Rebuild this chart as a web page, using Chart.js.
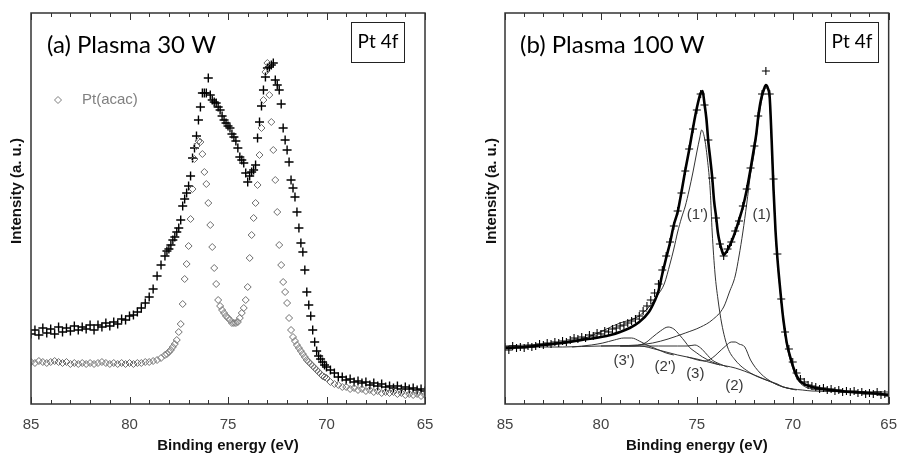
<!DOCTYPE html>
<html>
<head>
<meta charset="utf-8">
<script src="https://cdn.jsdelivr.net/npm/chart.js@4.4.0/dist/chart.umd.min.js"></script>
<style>
  html, body { margin: 0; padding: 0; background: #fff; }
  #wrap { position: relative; width: 909px; height: 453px; }
  canvas { position: absolute; top: 0; }
  #left { left: 0; }
  #right { left: 455px; }
</style>
</head>
<body>
<div id="wrap">
  <canvas id="left" width="455" height="453"></canvas>
  <canvas id="right" width="454" height="453"></canvas>
</div>
<script>
// ---- panel (a): Plasma 30 W ----
const energy30 = [
  85.0, 84.8, 84.6, 84.4, 84.2, 84.0, 83.8, 83.6, 83.4, 83.2, 83.0, 82.8, 82.6, 82.4, 82.2, 82.0, 81.8, 81.6,
  81.4, 81.2, 81.0, 80.8, 80.6, 80.4, 80.2, 80.0, 79.8, 79.6, 79.4, 79.2, 79.0, 78.8, 78.6, 78.4, 78.2,
  78.1, 78.0, 77.9, 77.8, 77.7, 77.6, 77.5, 77.4, 77.3, 77.2, 77.1, 77.0, 76.9, 76.8, 76.7, 76.6, 76.5, 76.4,
  76.3, 76.2, 76.1, 76.0, 75.9, 75.8, 75.7, 75.6, 75.5, 75.4, 75.3, 75.2, 75.1, 75.0, 74.9, 74.8, 74.7, 74.6,
  74.5, 74.4, 74.3, 74.2, 74.1, 74.0, 73.9, 73.8, 73.7, 73.6, 73.5, 73.4, 73.3, 73.2, 73.1, 73.0, 72.9, 72.8,
  72.7, 72.6, 72.5, 72.4, 72.3, 72.2, 72.1, 72.0, 71.9, 71.8, 71.7, 71.6, 71.5, 71.4, 71.3, 71.2, 71.1, 71.0,
  70.9, 70.8, 70.7, 70.6, 70.5, 70.4, 70.3, 70.2, 70.1, 70.0,
  69.8, 69.6, 69.4, 69.2, 69.0, 68.8, 68.6, 68.4, 68.2, 68.0, 67.8, 67.6, 67.4, 67.2, 67.0, 66.8, 66.6, 66.4,
  66.2, 66.0, 65.8, 65.6, 65.4, 65.2, 65.0
];
const plasma30 = [
  70, 74, 69, 76, 71, 75, 70, 77, 72, 76, 73, 78, 74, 77, 75, 79, 74, 79,
  77, 81, 78, 82, 80, 85, 84, 88, 89, 92, 96, 101, 107, 115, 128, 139, 148,
  153, 155, 159, 164, 167, 172, 176, 184, 198, 205, 211, 218, 228, 246, 256, 268, 284, 297,
  311, 311, 311, 326, 309, 304, 302, 301, 297, 294, 288, 284, 281, 278, 276, 270, 267, 263,
  256, 247, 244, 241, 231, 222, 228, 232, 234, 239, 266, 282, 298, 314, 327, 336, 337, 339,
  341, 324, 319, 314, 300, 276, 264, 254, 242, 224, 216, 207, 192, 176, 161, 152, 134, 112,
  99, 88, 74, 62, 53, 48, 45, 42, 39, 37,
  34, 31, 27, 27, 24, 25, 22, 23, 21, 22, 19, 21, 18, 20, 17, 18, 16, 18,
  15, 17, 15, 16, 14, 15, 13
];
const ptAcac = [
  42, 41, 43, 42, 41, 42, 43, 42, 41, 42, 40, 41, 40, 41, 40, 41, 40, 41,
  42, 41, 40, 41, 40, 41, 40, 41, 40, 41, 41, 42, 42, 43, 44, 46, 49,
  50, 52, 54, 57, 60, 64, 72, 80, 100, 125, 140, 158, 185, 215, 245, 258, 263, 262,
  250, 232, 220, 201, 179, 157, 136, 120, 104, 98, 94, 91, 88, 86, 84, 81, 81, 81,
  82, 86, 91, 96, 104, 117, 146, 169, 186, 201, 219, 249, 276, 304, 332, 341, 309, 282,
  254, 224, 192, 159, 139, 122, 112, 101, 86, 74, 67, 63, 59, 56, 53, 50, 47, 44,
  42, 40, 38, 36, 34, 32, 30, 28, 27, 26,
  22, 20, 19, 17, 17, 15, 16, 14, 15, 13, 14, 12, 13, 11, 12, 11, 12, 10,
  11, 9, 10, 9, 10, 8, 9
];

// ---- panel (b): Plasma 100 W ----
const energy100 = [
  85.0, 84.8, 84.6, 84.4, 84.2, 84.0, 83.8, 83.6, 83.4, 83.2, 83.0, 82.8, 82.6, 82.4, 82.2, 82.0, 81.8,
  81.6, 81.4, 81.2, 81.0, 80.8, 80.6, 80.4, 80.2, 80.0, 79.8, 79.6, 79.4, 79.2, 79.0, 78.8, 78.6, 78.4,
  78.2, 78.0, 77.8, 77.6, 77.4, 77.2, 77.0, 76.8, 76.6, 76.4, 76.2, 76.0, 75.8, 75.6, 75.4, 75.2, 75.0,
  74.8, 74.6, 74.4, 74.2, 74.0, 73.8, 73.6, 73.4, 73.2, 73.0, 72.8, 72.6, 72.4, 72.2, 72.0, 71.8, 71.6,
  71.4, 71.2, 71.0, 70.8, 70.6, 70.4, 70.2, 70.0, 69.8, 69.6, 69.4, 69.2, 69.0, 68.8, 68.6, 68.4, 68.2,
  68.0, 67.8, 67.6, 67.4, 67.2, 67.0, 66.8, 66.6, 66.4, 66.2, 66.0, 65.8, 65.6, 65.4, 65.2, 65.0
];
const plasma100 = [
  57, 54, 58, 56, 57, 56, 58, 57, 58, 60, 59, 61, 60, 62, 61, 63, 62,
  64, 66, 65, 67, 66, 69, 68, 71, 70, 73, 72, 75, 76, 78, 79, 81, 83,
  85, 88, 93, 98, 104, 111, 120, 134, 148, 162, 178, 193, 211, 233, 255, 275, 294,
  310, 299, 264, 226, 186, 160, 148, 155, 162, 173, 183, 198, 215, 236, 258, 288, 310,
  333, 310, 225, 150, 105, 72, 55, 42, 31, 25, 22, 19, 18, 17, 15, 16, 14,
  15, 13, 14, 12, 13, 12, 13, 11, 12, 10, 11, 10, 12, 9, 10, 8
];
const fitEnergy = [
  85, 84, 83, 82, 81, 80, 79.5, 79, 78.5, 78, 77.5, 77.2, 77, 76.8, 76.6, 76.4, 76.2, 76,
  75.8, 75.6, 75.4, 75.2, 75, 74.8, 74.7, 74.6, 74.5, 74.4, 74.3, 74.2, 74.1, 74,
  73.9, 73.8, 73.7, 73.6, 73.5, 73.4, 73.2, 73, 72.8, 72.6, 72.4, 72.2, 72,
  71.9, 71.8, 71.7, 71.6, 71.5, 71.4, 71.3, 71.2, 71.1, 71, 70.9, 70.8, 70.7, 70.6, 70.5, 70.4, 70.3, 70.1,
  69.9, 69.7, 69.5, 69, 68, 67, 66, 65
];
const fitSum = [
  56, 57, 59, 61, 64, 67, 69, 72, 76, 82, 92, 103, 113, 130, 146, 161, 179, 192,
  212, 234, 254, 276, 296, 311, 313, 300, 285, 262, 245, 227, 203, 188,
  171, 161, 154, 149, 151, 154, 162, 172, 184, 197, 214, 235, 258,
  270, 287, 300, 309, 315, 319, 316, 306, 264, 214, 174, 146, 124, 104, 86, 72, 60, 45,
  33, 25, 21, 17, 14, 12, 11, 9
];
const bgEnergy = [85, 82, 80, 79, 78, 77, 76, 75, 74, 73, 72, 71, 70.5, 70, 69.5, 69, 65];
const bgLine = [57, 57, 58, 58, 58, 54, 49, 45, 40, 36, 29, 21, 17, 15, 14, 13, 12];

const p1Energy = [80, 78.1, 77.3, 76.5, 75.6, 74.8, 74.2, 73.6, 73.3, 73, 72.8, 72.6, 72.4, 72.2, 72,
  71.8, 71.6, 71.4, 71.3, 71.2, 71.1, 71, 70.9, 70.8, 70.6, 70.4, 70.2, 70, 69.8, 69.5, 69, 68.5];
const p1 = [58, 59, 61, 65, 71, 77, 84, 97, 112, 128, 148, 172, 200, 230, 252,
  282, 305, 316, 315, 303, 261, 211, 172, 144, 102, 69, 49, 36, 26, 19, 15, 14];
const p1pEnergy = [85, 83, 82, 81, 80.4, 79.6, 79, 78.1, 77.5, 77, 76.7, 76.4, 76.2, 76, 75.8, 75.6, 75.4,
  75.2, 75, 74.85, 74.75, 74.6, 74.45, 74.3, 74.2, 74.05, 73.9, 73.7, 73.4, 73, 72.2, 71.4, 70.8, 70.5, 70];
const p1p = [58, 60, 62, 65, 69, 76, 81, 87, 97, 110, 120, 140, 155, 172, 186, 198, 214,
  232, 252, 266, 274, 266, 245, 213, 172, 130, 105, 80, 57, 44, 31, 24, 20, 17, 15];
const p2Energy = [75.5, 74.6, 74.2, 73.9, 73.5, 73.2, 73.0, 72.8, 72.5, 72.2, 71.7, 71.0, 70.3, 69.8];
const p2 = [47, 43, 46, 51, 58, 62, 62, 60, 57, 44, 31, 21, 16, 14];
const p2pEnergy = [79, 78.4, 77.7, 77.3, 76.9, 76.5, 76.2, 75.9, 75.6, 75.4, 75, 74.7, 74.2, 73.8];
const p2p = [58, 58, 61, 67, 73, 77, 75, 69, 62, 57, 51, 47, 42, 39];
const p3Energy = [79, 78, 77, 76, 75.5, 75.1, 74.8, 74.5, 74.2, 73.8, 73.4];
const p3 = [58, 58, 58, 58, 58, 59, 56, 50, 44, 40, 37];
const p3pEnergy = [81.5, 80.5, 79.9, 79.3, 78.8, 78.4, 78, 77.6, 77.1, 76.6, 76.2];
const p3p = [57, 59, 61, 64, 66, 66, 63, 59, 55, 51, 49];

const peakLabels = ["(1')", '(1)', "(3')", "(2')", '(3)', '(2)'];
const peakLabelE = [74.97, 71.62, 78.79, 76.65, 75.08, 73.04];
const peakLabelI = [189, 189, 43, 37, 30, 18];

const axisTicks = [85, 84, 83, 82, 81, 80, 79, 78, 77, 76, 75, 74, 73, 72, 71, 70, 69, 68, 67, 66, 65];

Chart.defaults.font.family = '"Liberation Sans", Arial, sans-serif';

const pts = (xs, ys) => xs.map((x, i) => ({ x: x, y: ys[i] }));

const frameTicks = {
  id: 'frameTicks',
  afterDatasetsDraw(chart) {
    const { ctx, chartArea: a } = chart;
    const x = chart.scales.x;
    ctx.save();
    ctx.strokeStyle = '#333';
    ctx.lineWidth = 1;
    axisTicks.forEach(e => {
      const px = Math.round(x.getPixelForValue(e)) + 0.5;
      const len = e % 5 === 0 ? 7 : 4;
      ctx.beginPath();
      ctx.moveTo(px, a.bottom);
      ctx.lineTo(px, a.bottom - len);
      ctx.moveTo(px, a.top);
      ctx.lineTo(px, a.top + len);
      ctx.stroke();
    });
    ctx.lineWidth = 1.5;
    ctx.strokeRect(a.left, a.top, a.right - a.left, a.bottom - a.top);
    ctx.restore();
  }
};

function panelText(title, titleX, boxX, yTitleX) {
  return {
    id: 'panelText',
    afterDraw(chart) {
      const ctx = chart.ctx;
      ctx.save();
      ctx.fillStyle = '#000';
      ctx.textBaseline = 'alphabetic';
      ctx.textAlign = 'left';
      ctx.font = '24px Lato';
      ctx.fillText(title, titleX, 53);
      ctx.strokeStyle = '#222';
      ctx.lineWidth = 1;
      ctx.strokeRect(boxX + 0.5, 22.5, 53, 40);
      ctx.font = '19px Lato';
      ctx.textAlign = 'center';
      ctx.textBaseline = 'middle';
      ctx.fillText('Pt 4f', boxX + 27, 42);
      ctx.translate(yTitleX, 191);
      ctx.rotate(-Math.PI / 2);
      ctx.font = 'bold 15px "Liberation Sans"';
      ctx.fillStyle = '#111';
      ctx.fillText('Intensity (a. u.)', 0, 0);
      ctx.restore();
    }
  };
}

function baseOptions(pad) {
  return {
    responsive: false,
    animation: false,
    layout: { padding: pad },
    plugins: { legend: { display: false }, tooltip: { enabled: false } },
    scales: {
      x: {
        type: 'linear', reverse: true, min: 65, max: 85,
        afterFit(s) { s.height = 49; },
        grid: { display: false, drawTicks: false },
        border: { display: false },
        ticks: { stepSize: 5, padding: 12, color: '#444', font: { size: 15 } },
        title: {
          display: true, text: 'Binding energy (eV)', color: '#111',
          font: { size: 15, weight: 'bold' }, padding: { top: 0, bottom: -2 }
        }
      },
      y: { display: false, min: 0, max: 391 }
    }
  };
}

const legendAcac = {
  id: 'legendAcac',
  afterDraw(chart) {
    const ctx = chart.ctx;
    ctx.save();
    ctx.strokeStyle = '#7d7d7d';
    ctx.lineWidth = 1;
    ctx.beginPath();
    ctx.moveTo(58, 96.5);
    ctx.lineTo(61.5, 100);
    ctx.lineTo(58, 103.5);
    ctx.lineTo(54.5, 100);
    ctx.closePath();
    ctx.stroke();
    ctx.fillStyle = '#808080';
    ctx.font = '15px "Liberation Sans"';
    ctx.textBaseline = 'middle';
    ctx.fillText('Pt(acac)', 82, 100);
    ctx.restore();
  }
};

new Chart(document.getElementById('left'), {
  type: 'scatter',
  data: {
    datasets: [
      {
        label: 'Pt(acac)', data: pts(energy30, ptAcac), order: 0,
        pointStyle: 'rectRot', pointRadius: 3.5, pointBorderWidth: 1,
        pointBorderColor: '#6e6e6e', pointBackgroundColor: 'rgba(255,255,255,0)'
      },
      {
        label: 'Plasma 30 W', data: pts(energy30, plasma30), order: 1,
        pointStyle: 'cross', pointRadius: 4.5, pointBorderWidth: 1.4,
        pointBorderColor: '#000'
      }
    ]
  },
  options: baseOptions({ left: 31, right: 30, top: 13, bottom: 0 }),
  plugins: [frameTicks, panelText('(a) Plasma 30 W', 47, 351, 17), legendAcac]
});

const compLine = (xs, ys) => ({
  data: pts(xs, ys), showLine: true, pointRadius: 0, borderColor: '#333',
  borderWidth: 1, cubicInterpolationMode: 'monotone', order: 2
});

const peakText = {
  id: 'peakText',
  afterDraw(chart) {
    const { ctx, scales: { x, y } } = chart;
    ctx.save();
    ctx.fillStyle = '#3a3a3a';
    ctx.font = '15px "Liberation Sans"';
    ctx.textAlign = 'center';
    ctx.textBaseline = 'middle';
    peakLabels.forEach((t, i) => {
      ctx.fillText(t, x.getPixelForValue(peakLabelE[i]), y.getPixelForValue(peakLabelI[i]));
    });
    ctx.restore();
  }
};

new Chart(document.getElementById('right'), {
  type: 'scatter',
  data: {
    datasets: [
      {
        label: 'Plasma 100 W', data: pts(energy100, plasma100), order: 0,
        pointStyle: 'cross', pointRadius: 4, pointBorderWidth: 1.1, pointBorderColor: '#000'
      },
      {
        label: 'fit', data: pts(fitEnergy, fitSum), showLine: true, pointRadius: 0,
        borderColor: '#000', borderWidth: 2.6, cubicInterpolationMode: 'monotone', order: 1
      },
      compLine(bgEnergy, bgLine),
      compLine(p1Energy, p1),
      compLine(p1pEnergy, p1p),
      compLine(p2Energy, p2),
      compLine(p2pEnergy, p2p),
      compLine(p3Energy, p3),
      compLine(p3pEnergy, p3p)
    ]
  },
  options: baseOptions({ left: 50, right: 11, top: 13, bottom: 0 }),
  plugins: [frameTicks, panelText('(b) Plasma 100 W', 65, 370, 37), peakText]
});
</script>
</body>
</html>
